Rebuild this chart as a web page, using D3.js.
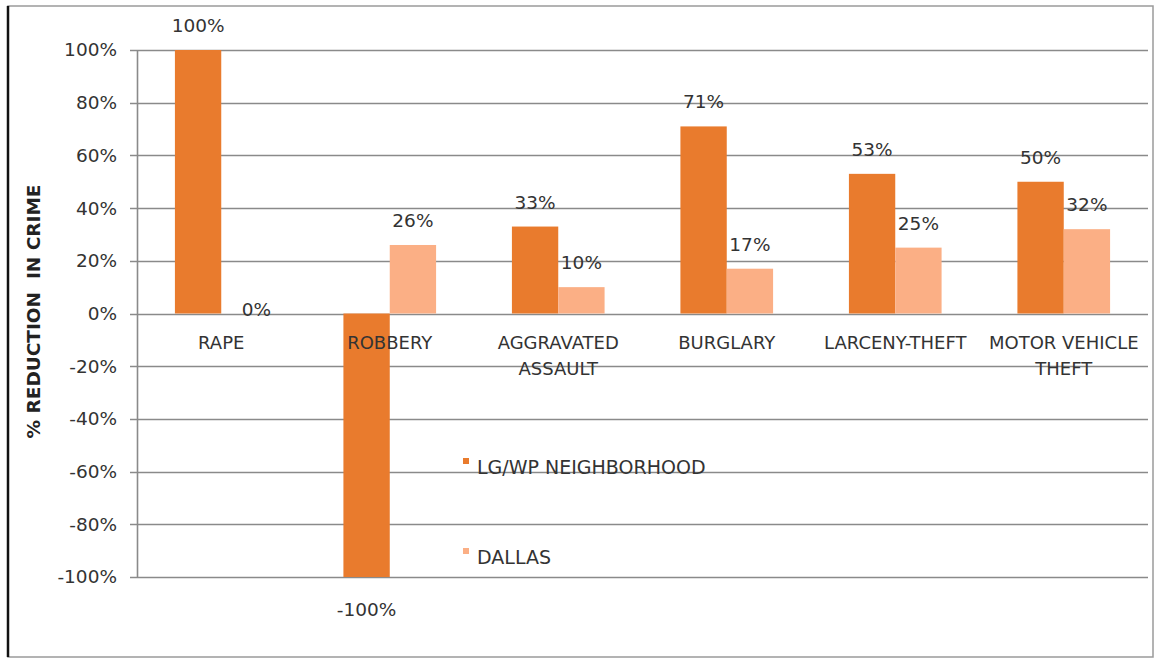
<!DOCTYPE html>
<html>
<head>
<meta charset="utf-8">
<script src="https://cdn.jsdelivr.net/npm/d3@7"></script>
<style>
html,body{margin:0;padding:0;background:#fff;}
svg{display:block;font-family:"DejaVu Sans",sans-serif;}
</style>
</head>
<body>
<svg id="chart" width="1160" height="659"></svg>
<script>
// ---- data ----
const categories = ["RAPE", "ROBBERY", "AGGRAVATED ASSAULT", "BURGLARY", "LARCENY-THEFT", "MOTOR VEHICLE THEFT"];
const seriesNames = ["LG/WP NEIGHBORHOOD", "DALLAS"];
const neighborhood = [100, -100, 33, 71, 53, 50];
const dallas = [0, 26, 10, 17, 25, 32];
const yTicks = [-100, -80, -60, -40, -20, 0, 20, 40, 60, 80, 100];
const yTitle = "% REDUCTION  IN CRIME";

// ---- drawing ----
const colors = ["#E97B2D", "#FBAF85"];
const svg = d3.select("#chart");
const W = 1160, H = 659;
const plot = {left: 137, right: 1148, top: 50, bottom: 577};

// outer frame
svg.append("rect").attr("x", 8).attr("y", 6).attr("width", 1145).attr("height", 651)
  .attr("fill", "none").attr("stroke", "#9a9a9a").attr("stroke-width", 1.5);
svg.append("line").attr("x1", 8).attr("x2", 8).attr("y1", 6).attr("y2", 657)
  .attr("stroke", "#111").attr("stroke-width", 2.5);

const y = d3.scaleLinear().domain([-100, 100]).range([plot.bottom, plot.top]);
const x0 = d3.scaleBand().domain(categories).range([plot.left, plot.right]).paddingInner(0.45).paddingOuter(0.225);
const x1 = d3.scaleBand().domain(seriesNames).range([0, x0.bandwidth()]).padding(0);

// gridlines
svg.append("g").selectAll("line").data(yTicks).join("line")
  .attr("x1", plot.left - 7).attr("x2", plot.right)
  .attr("y1", d => Math.round(y(d)) + 0.5).attr("y2", d => Math.round(y(d)) + 0.5)
  .attr("stroke", "#8a8a8a").attr("stroke-width", 1.6);

// y axis line
svg.append("line").attr("x1", plot.left + 0.5).attr("x2", plot.left + 0.5)
  .attr("y1", plot.top).attr("y2", plot.bottom)
  .attr("stroke", "#8a8a8a").attr("stroke-width", 1.6);

// y tick labels
const yAxis = d3.axisLeft(y).tickValues(yTicks).tickFormat(d => d + "%").tickSize(0).tickPadding(20);
const yg = svg.append("g").attr("transform", `translate(${plot.left},0)`).call(yAxis);
yg.select(".domain").remove();
yg.selectAll("text").attr("font-family", "DejaVu Sans").attr("font-size", 18.5).attr("fill", "#333");

// y title
svg.append("text").attr("transform", `translate(40,${(plot.top + plot.bottom) / 2 - 2}) rotate(-90)`)
  .attr("text-anchor", "middle").attr("font-weight", "bold").attr("font-size", 18.5)
  .attr("fill", "#222").style("white-space", "pre").text(yTitle);

// bars
const rows = categories.map((c, i) => ({cat: c, vals: [
  {s: seriesNames[0], v: neighborhood[i], k: 0},
  {s: seriesNames[1], v: dallas[i], k: 1}
]}));

const groups = svg.append("g").selectAll("g").data(rows).join("g")
  .attr("transform", d => `translate(${x0(d.cat)},0)`);

groups.selectAll("rect").data(d => d.vals).join("rect")
  .attr("x", d => x1(d.s))
  .attr("width", x1.bandwidth())
  .attr("y", d => y(Math.max(0, d.v)))
  .attr("height", d => Math.abs(y(d.v) - y(0)))
  .attr("fill", d => colors[d.k]);

// category labels (wrapped)
const catG = svg.append("g");
categories.forEach(c => {
  const cx = x0(c) + x0.bandwidth() / 2;
  const t = catG.append("text").attr("x", cx).attr("y", y(0) + 35)
    .attr("text-anchor", "middle").attr("font-size", 18).attr("fill", "#333");
  const words = c.split(" ");
  const maxW = x0.step();
  let line = [], lineNo = 0;
  let tspan = t.append("tspan").attr("x", cx).attr("dy", 0);
  words.forEach(w => {
    line.push(w);
    tspan.text(line.join(" "));
    if (tspan.node().getComputedTextLength() > maxW && line.length > 1) {
      line.pop();
      tspan.text(line.join(" "));
      line = [w];
      lineNo++;
      tspan = t.append("tspan").attr("x", cx).attr("dy", 26).text(w);
    }
  });
});

// data labels
groups.selectAll("text.val").data(d => d.vals).join("text").attr("class", "val")
  .attr("x", d => x1(d.s) + x1.bandwidth() / 2 + (d.v === 0 ? 12 : 0))
  .attr("y", d => d.v === 0 ? y(0) + 2 : (d.v > 0 ? y(d.v) - 18 : y(d.v) + 39))
  .attr("text-anchor", "middle").attr("font-size", 18.5).attr("fill", "#333")
  .text(d => d.v + "%");

// legend
const leg = svg.append("g").attr("transform", "translate(465,0)");
seriesNames.forEach((s, i) => {
  const ly = i === 0 ? 467 : 557;
  leg.append("rect").attr("x", -2).attr("y", ly - 9).attr("width", 6).attr("height", 6).attr("fill", colors[i]);
  leg.append("text").attr("x", 12).attr("y", ly + 7).attr("font-size", 19).attr("fill", "#333").text(s);
});
</script>
</body>
</html>
